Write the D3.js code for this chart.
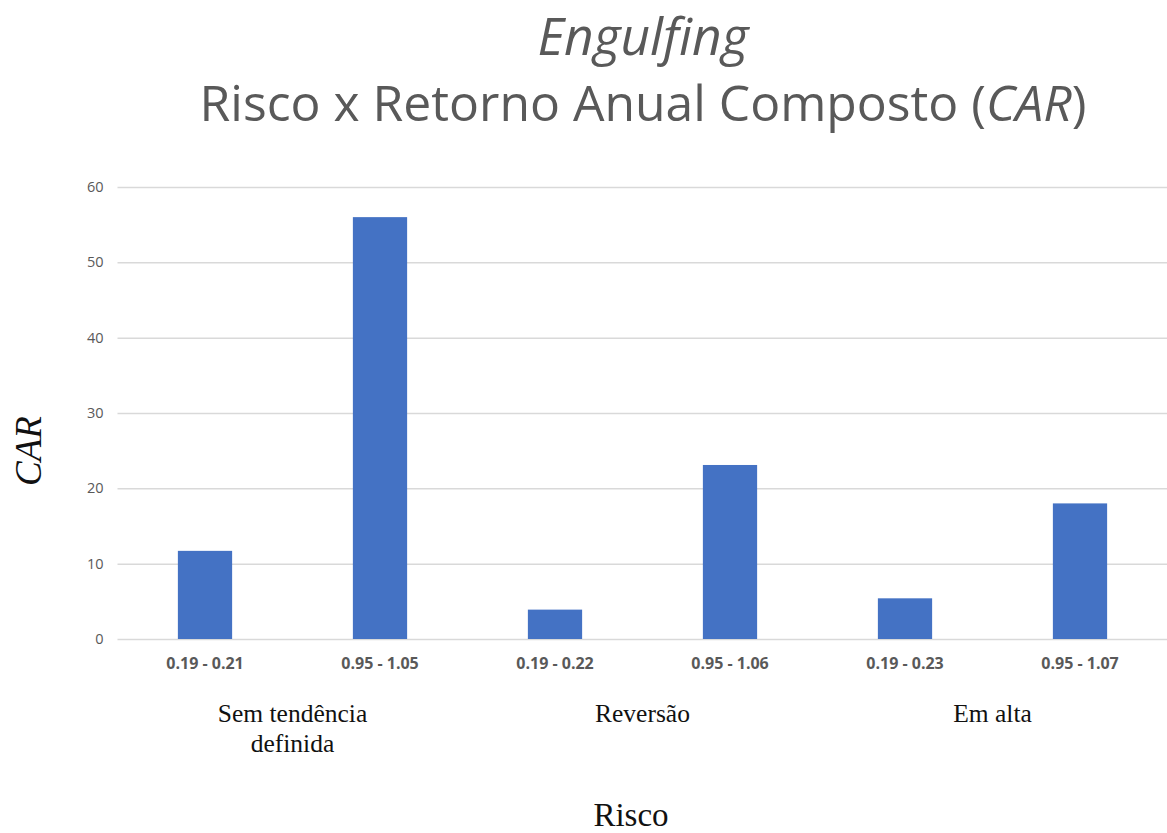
<!DOCTYPE html>
<html>
<head>
<meta charset="utf-8">
<script src="https://cdn.jsdelivr.net/npm/d3@7"></script>
<style>
  html, body { margin: 0; padding: 0; background: #fff; }
  svg { display: block; }
</style>
</head>
<body>
<svg id="chart" width="1167" height="833"></svg>
<script>
// Market regimes (group labels) and the risk ranges inside each one
const groups = ["Sem tendência definida", "Reversão", "Em alta"];
const groupLines = [["Sem tendência", "definida"], ["Reversão"], ["Em alta"]];
const riskRanges = ["0.19 - 0.21", "0.95 - 1.05", "0.19 - 0.22", "0.95 - 1.06", "0.19 - 0.23", "0.95 - 1.07"];
const rangeGroup = [0, 0, 1, 1, 2, 2];
// Compound annual return (CAR) per risk range
const carValues = [11.7, 56.0, 3.9, 23.1, 5.4, 18.0];
const yTicks = [0, 10, 20, 30, 40, 50, 60];

const svg = d3.select("#chart");
const plot = { left: 117.5, right: 1167.5, top: 187, bottom: 639 };

const x = d3.scaleBand()
  .domain(d3.range(riskRanges.length))
  .range([plot.left, plot.right])
  .paddingInner(0.69)
  .paddingOuter(0.345);

const y = d3.scaleLinear().domain([0, 60]).range([plot.bottom, plot.top]);

const grey = "#595959";

// Horizontal gridlines and value labels
const yAxis = d3.axisLeft(y).tickValues(yTicks).tickSize(-(plot.right - plot.left)).tickPadding(14);
const gy = svg.append("g").attr("transform", `translate(${plot.left},0)`).call(yAxis);
gy.select(".domain").remove();
gy.selectAll(".tick line").attr("stroke", "#d9d9d9").attr("stroke-width", 1.5);
gy.selectAll(".tick text")
  .attr("fill", grey)
  .style("font-family", "'Open Sans', sans-serif")
  .style("font-size", "14.5px");

// Bars
svg.append("g").selectAll("rect")
  .data(carValues)
  .join("rect")
  .attr("x", (d, i) => x(i))
  .attr("width", x.bandwidth())
  .attr("y", d => y(d))
  .attr("height", d => y(0) - y(d))
  .attr("fill", "#4472C4");

// Risk-range tick labels
const xAxis = d3.axisBottom(x).tickFormat(i => riskRanges[i]).tickSize(0).tickPadding(19);
const gx = svg.append("g").attr("transform", `translate(0,${plot.bottom})`).call(xAxis);
gx.select(".domain").remove();
gx.selectAll(".tick text")
  .attr("fill", grey)
  .style("font-family", "'Open Sans', sans-serif")
  .style("font-weight", "bold")
  .style("font-size", "16px");

// Group labels centred under their pair of bars
const serif = "'Liberation Serif', 'DejaVu Serif', serif";
groups.forEach((g, gi) => {
  const idx = rangeGroup.map((v, i) => v === gi ? i : -1).filter(i => i >= 0);
  const cx = (x(idx[0]) + x(idx[idx.length - 1]) + x.bandwidth()) / 2;
  const t = svg.append("text")
    .attr("text-anchor", "middle")
    .attr("fill", "#111")
    .style("font-family", serif)
    .style("font-size", "25.5px");
  groupLines[gi].forEach((line, li) => {
    t.append("tspan").attr("x", cx).attr("y", 722 + li * 30).text(line);
  });
});

// Axis titles
svg.append("text")
  .attr("transform", "translate(41,451) rotate(-90)")
  .attr("text-anchor", "middle")
  .attr("fill", "#111")
  .style("font-family", serif)
  .style("font-style", "italic")
  .style("font-size", "37px")
  .text("CAR");

svg.append("text")
  .attr("x", 631).attr("y", 826)
  .attr("text-anchor", "middle")
  .attr("fill", "#111")
  .style("font-family", serif)
  .style("font-size", "33px")
  .text("Risco");

// Title
const titleFont = "'Open Sans', sans-serif";
const t1 = svg.append("text")
  .attr("x", 643).attr("y", 55)
  .attr("text-anchor", "middle")
  .attr("fill", grey)
  .style("font-family", titleFont)
  .style("font-style", "italic")
  .style("font-size", "44px")
  .text("Engulfing");

const t2 = svg.append("text")
  .attr("x", 643).attr("y", 121)
  .attr("text-anchor", "middle")
  .attr("fill", grey)
  .style("font-family", titleFont)
  .style("font-size", "44px");
t2.append("tspan").text("Risco x Retorno Anual Composto (");
t2.append("tspan").style("font-style", "italic").text("CAR");
t2.append("tspan").text(")");

// Fit the title lines to their intended widths
function fitWidth(sel, target, base) {
  const w = sel.node().getComputedTextLength();
  sel.style("font-size", (base * target / w).toFixed(2) + "px");
}
fitWidth(t2, 887, 44);
fitWidth(t1, 211, 44);
</script>
</body>
</html>
